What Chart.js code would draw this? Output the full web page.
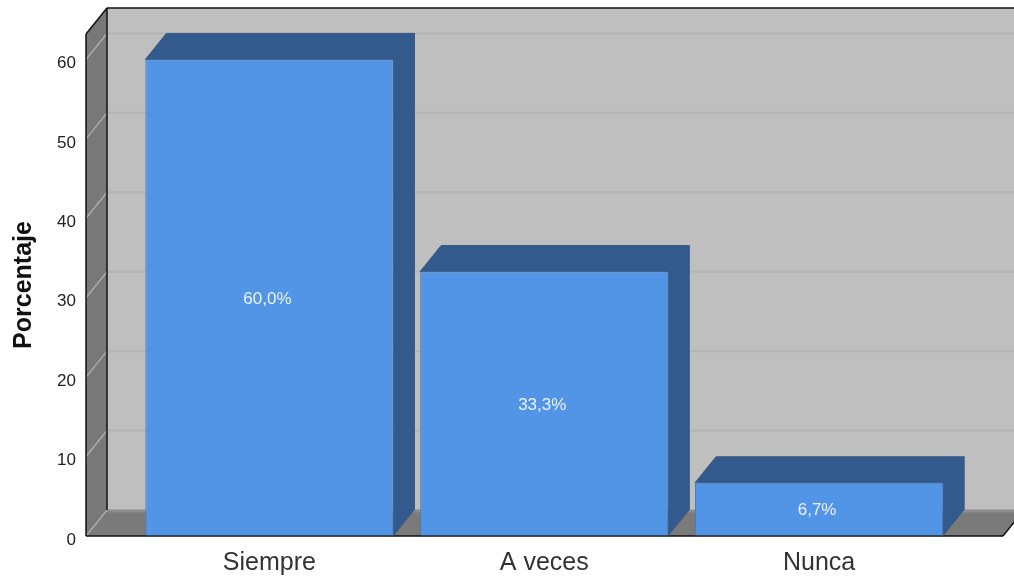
<!DOCTYPE html>
<html>
<head>
<meta charset="utf-8">
<title>Porcentaje</title>
<script src="https://cdn.jsdelivr.net/npm/chart.js@4"></script>
<style>
  html, body { margin: 0; padding: 0; background: #fff; overflow: hidden; }
  canvas { display: block; }
</style>
</head>
<body>
<canvas id="myBarChart" width="1014" height="577"></canvas>
<script>
var categories = ["Siempre", "A veces", "Nunca"];
var percentages = [60.0, 33.3, 6.7];
var yTickValues = [0, 10, 20, 30, 40, 50, 60];

var colorFront = "rgb(82, 148, 229)";
var colorDepth = "rgb(50, 90, 140)";
var colorWall = "rgb(191, 191, 191)";
var colorFloor = "rgb(122, 122, 122)";

// 3D look: how far the back wall sits from the front plane
var depthX = 21;
var depthY = -26;
var yMax = 63.2;

function poly(ctx, pts, fill, stroke, lineWidth) {
  ctx.beginPath();
  ctx.moveTo(pts[0][0], pts[0][1]);
  for (var i = 1; i < pts.length; i++) ctx.lineTo(pts[i][0], pts[i][1]);
  ctx.closePath();
  if (fill) { ctx.fillStyle = fill; ctx.fill(); }
  if (stroke) { ctx.strokeStyle = stroke; ctx.lineWidth = lineWidth || 1; ctx.stroke(); }
}

function line(ctx, x1, y1, x2, y2, color, width) {
  ctx.beginPath();
  ctx.moveTo(x1, y1);
  ctx.lineTo(x2, y2);
  ctx.strokeStyle = color;
  ctx.lineWidth = width;
  ctx.stroke();
}

var box3d = {
  id: "box3d",
  beforeDatasetsDraw: function (chart) {
    var ctx = chart.ctx;
    var y = chart.scales.y;
    var y0 = y.getPixelForValue(0);
    var yTop = y.getPixelForValue(yMax);
    var left = 86;
    var right = 1003;
    var backLeft = left + depthX;
    ctx.save();

    // back wall, floor and side wall
    ctx.fillStyle = colorWall;
    ctx.fillRect(backLeft, yTop + depthY, chart.width - backLeft, y0 - yTop);
    poly(ctx, [[left, y0], [right, y0], [right + depthX, y0 + depthY], [backLeft, y0 + depthY]], colorFloor);
    line(ctx, backLeft, y0 + depthY + 1, chart.width, y0 + depthY + 1, "rgb(140, 140, 140)", 3);
    poly(ctx, [[left, y0], [left, yTop], [backLeft, yTop + depthY], [backLeft, y0 + depthY]], "rgb(120, 120, 120)");

    // grid lines run along the side wall and across the back wall
    yTickValues.forEach(function (v) {
      var py = y.getPixelForValue(v);
      line(ctx, left, py, backLeft, py + depthY, "rgb(170, 170, 170)", 1.5);
      if (v > 0) line(ctx, backLeft, py + depthY, chart.width, py + depthY, "rgb(180, 180, 180)", 2);
    });

    // frame
    line(ctx, left, yTop, left, y0, "#111", 1.5);
    line(ctx, backLeft, yTop + depthY, backLeft, y0 + depthY, "#111", 1.5);
    line(ctx, left, yTop, backLeft, yTop + depthY, "#111", 1.5);
    line(ctx, backLeft, yTop + depthY, chart.width, yTop + depthY, "#111", 1.5);
    line(ctx, left, y0, right, y0, "#111", 1.5);
    line(ctx, right, y0, right + depthX, y0 + depthY, "#111", 1.5);

    // top and right faces of each bar
    chart.getDatasetMeta(0).data.forEach(function (bar) {
      var x1 = bar.x - bar.width / 2;
      var x2 = bar.x + bar.width / 2;
      poly(ctx, [[x1, bar.y], [x1 + depthX, bar.y + depthY], [x2 + depthX, bar.y + depthY], [x2, bar.y]], colorDepth, "rgb(60, 90, 130)", 1);
      poly(ctx, [[x2, bar.y], [x2 + depthX, bar.y + depthY], [x2 + depthX, bar.base + depthY], [x2, bar.base]], colorDepth, "rgb(60, 90, 130)", 1);
    });
    ctx.restore();
  },
  afterDatasetsDraw: function (chart) {
    var ctx = chart.ctx;
    ctx.save();
    ctx.fillStyle = "rgb(235, 243, 252)";
    ctx.font = "17px 'Liberation Sans'";
    ctx.textAlign = "center";
    ctx.textBaseline = "middle";
    chart.getDatasetMeta(0).data.forEach(function (bar, i) {
      ctx.fillText(percentages[i].toFixed(1).replace(".", ",") + "%", bar.x - 2, (bar.y + bar.base) / 2 + 1.5);
    });
    ctx.restore();
  }
};

var myBarChart = document.getElementById("myBarChart");

var barChartConfig = {
  type: "bar",
  data: {
    labels: categories,
    datasets: [
      {
        label: "Porcentaje",
        data: percentages,
        backgroundColor: colorFront,
        borderColor: "rgb(70, 125, 195)",
        borderWidth: 1,
        barPercentage: 0.903,
        categoryPercentage: 1,
      },
    ],
  },
  options: {
    responsive: false,
    animation: false,
    layout: { padding: { top: 34, right: 57.5, left: 0, bottom: 0 } },
    plugins: { legend: { display: false }, title: { display: false }, tooltip: { enabled: false } },
    scales: {
      x: {
        grid: { display: false, drawTicks: false },
        border: { display: false },
        ticks: {
          color: "#333",
          padding: 12,
          maxRotation: 0,
          font: { family: "Liberation Sans", size: 25 },
        },
        afterFit: function (axis) { axis.height = 41; },
      },
      y: {
        min: 0,
        max: yMax,
        // transparent long tick marks push the labels out past the side wall
        grid: { display: true, drawOnChartArea: false, drawTicks: true, tickLength: 46, tickColor: "transparent" },
        border: { display: false },
        afterBuildTicks: function (axis) {
          axis.ticks = yTickValues.map(function (v) { return { value: v }; });
        },
        ticks: {
          color: "#222",
          padding: 10,
          // empty first line nudges the number down to where the reference has it
          callback: function (value) { return ["", String(value)]; },
          font: { family: "Liberation Sans", size: 17, lineHeight: "8px" },
        },
        title: {
          display: true,
          text: "Porcentaje",
          color: "#111",
          padding: { top: 9, bottom: 0 },
          font: { family: "Liberation Sans", size: 25, weight: "bold" },
        },
        afterFit: function (axis) { axis.width = 132; },
      },
    },
  },
  plugins: [box3d],
};

var barChart = new Chart(myBarChart, barChartConfig);
</script>
</body>
</html>
